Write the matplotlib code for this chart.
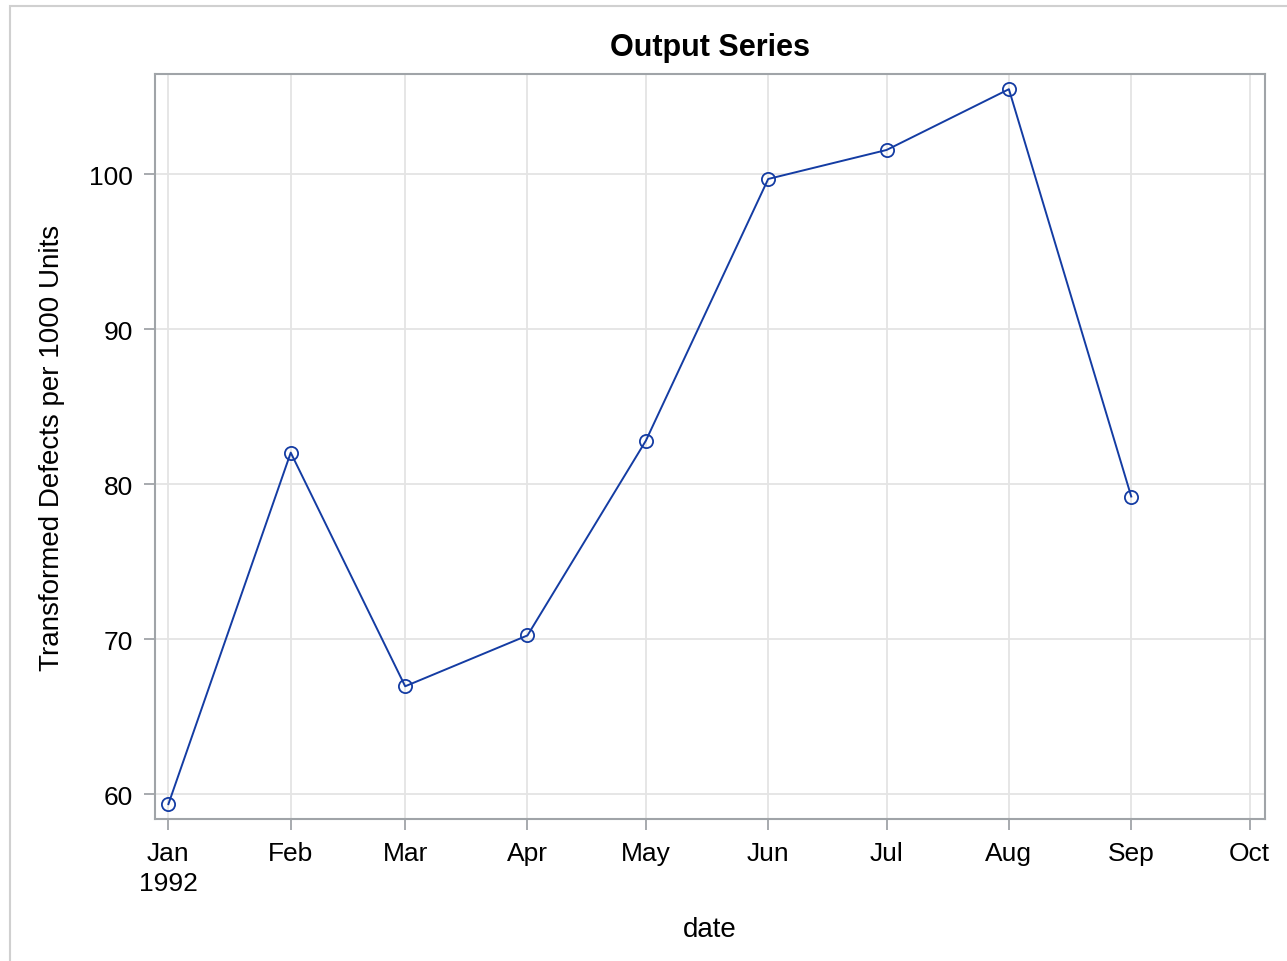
import matplotlib
matplotlib.use("Agg")
import matplotlib.pyplot as plt
import numpy as np
from datetime import datetime, timedelta

# Données
mois = [datetime(1992, m, 1) for m in range(1, 10)]
valeurs = [59.36, 82.03, 66.96, 70.24, 82.8, 99.68, 101.55, 105.47, 79.2]
ticksX = [datetime(1992, m, 1) for m in range(1, 11)]
labelsX = ["Jan\n1992", "Feb", "Mar", "Apr", "May", "Jun", "Jul", "Aug", "Sep", "Oct"]
ticksY = [60, 70, 80, 90, 100]

plt.rcParams['font.family'] = ['Liberation Sans', 'DejaVu Sans']

fig = plt.figure(figsize=(12.87, 9.62), dpi=100)
W, H = 1287, 962
ax = fig.add_axes([155 / W, 1 - 820 / H, (1265 - 155) / W, (820 - 75) / H])

# cadre gris autour de la figure
fig.patches.append(plt.Rectangle((10 / W, -0.1), 1.2, 1 - 7 / H + 0.1,
                                 transform=fig.transFigure, fill=False,
                                 edgecolor='#d0d0d0', linewidth=1.5))

couleur = '#143ca3'
ax.plot(mois, valeurs, '-', color=couleur, linewidth=1.4, zorder=3)
ax.plot(mois, valeurs, 'o', markerfacecolor='none', markeredgecolor=couleur,
        markersize=9.5, markeredgewidth=1.3, zorder=4)

ax.set_xlim(datetime(1992, 1, 1) - timedelta(days=3.4),
            datetime(1992, 10, 1) + timedelta(days=3.9))
ax.set_ylim(58.4, 106.45)
ax.set_xticks(ticksX)
ax.set_xticklabels(labelsX, linespacing=1.3)
ax.set_yticks(ticksY)

ax.grid(True, color='#e4e4e4', linewidth=1.3, zorder=0)
ax.set_axisbelow(True)
for s in ax.spines.values():
    s.set_color('#a0a4a8')
    s.set_linewidth(1.5)
ax.tick_params(axis='both', direction='out', length=8, width=1.3,
               color='#a0a4a8', labelsize=19, pad=8)

ax.set_title("Output Series", fontsize=22, fontweight='bold', pad=14)
ax.set_xlabel("date", fontsize=20, labelpad=15)
ax.set_ylabel("Transformed Defects per 1000 Units", fontsize=20, labelpad=17)

fig.savefig("out.png", dpi=100)
